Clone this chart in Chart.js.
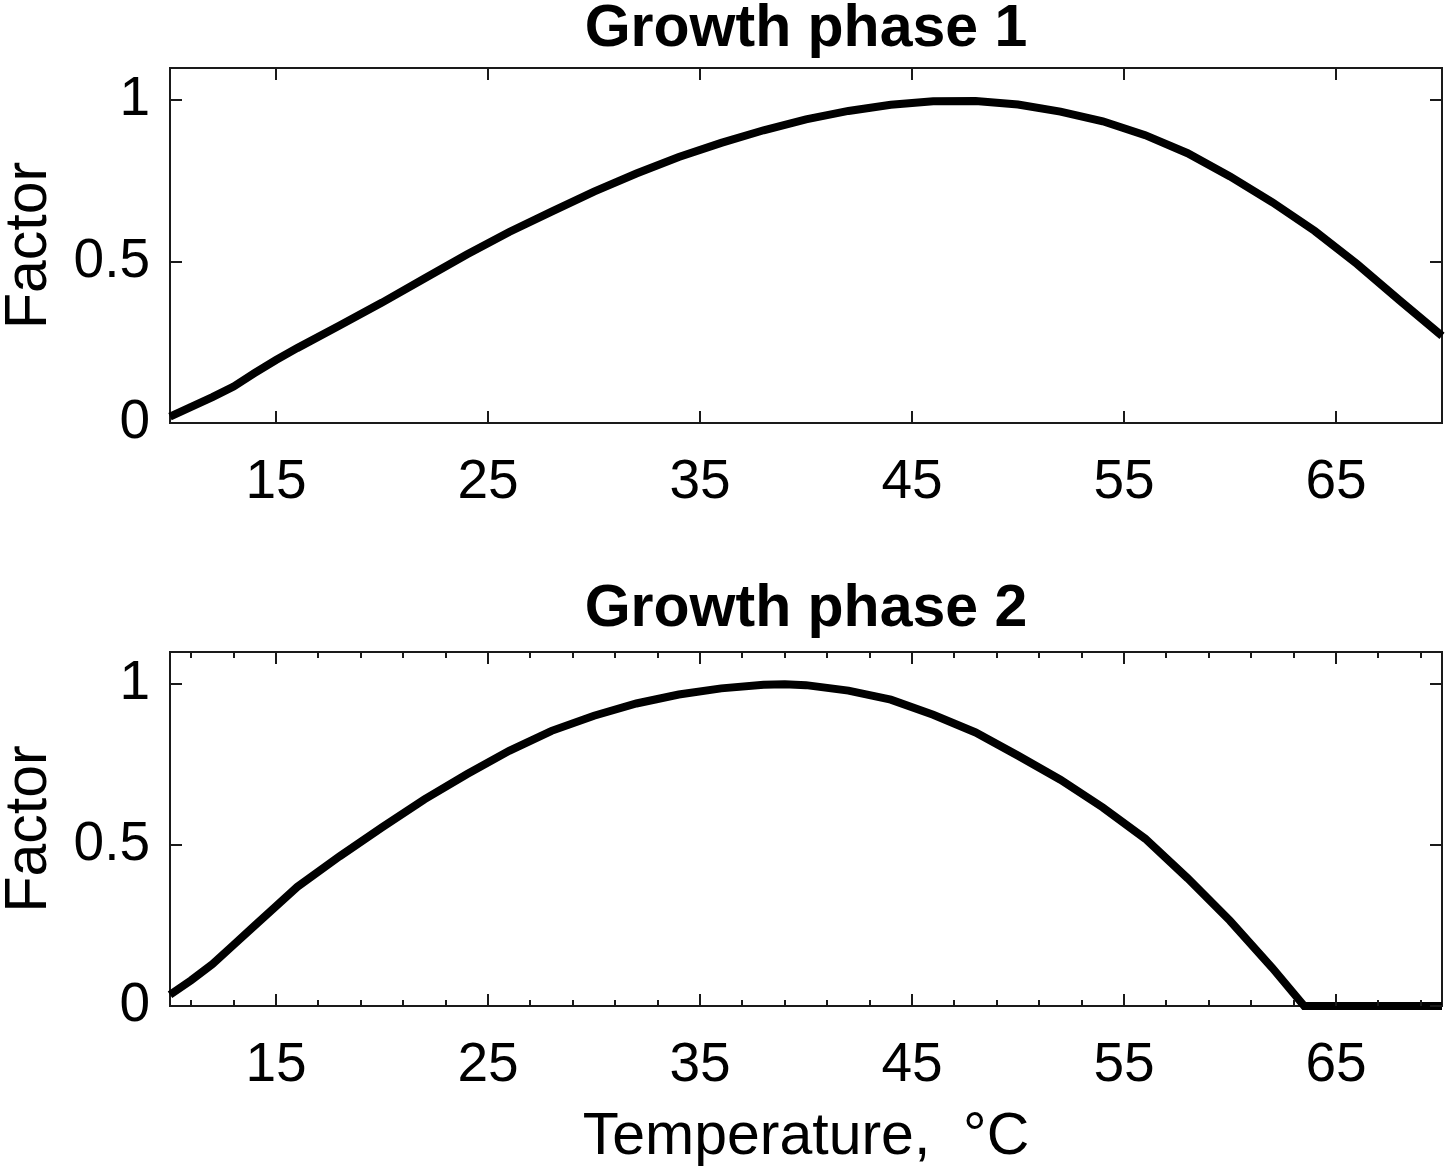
<!DOCTYPE html>
<html>
<head>
<meta charset="utf-8">
<script src="https://cdn.jsdelivr.net/npm/chart.js@4.4.1/dist/chart.umd.min.js"></script>
<style>
  body { margin: 0; background: #fff; }
  canvas { position: absolute; left: 0; }
</style>
</head>
<body>
<canvas id="phase1" width="1450" height="580" style="top:0px"></canvas>
<canvas id="phase2" width="1450" height="596" style="top:580px"></canvas>
<script>
// growth phase 1
const temps1 = [10, 11, 12, 13, 14, 15, 16, 18, 20, 22, 24, 26, 28, 30, 32, 34, 36, 38, 40, 42, 44, 46, 48, 50, 52, 54, 56, 58, 60, 62, 64, 66, 68, 70];
const factor1 = [0.02, 0.05, 0.08, 0.113, 0.155, 0.195, 0.232, 0.302, 0.373, 0.448, 0.522, 0.592, 0.655, 0.717, 0.773, 0.824, 0.868, 0.907, 0.941, 0.967, 0.986, 0.997, 0.998, 0.987, 0.965, 0.935, 0.892, 0.836, 0.764, 0.684, 0.595, 0.492, 0.38, 0.27];

// growth phase 2
const temps2 = [10, 11, 12, 13, 14, 15, 16, 18, 20, 22, 24, 26, 28, 30, 32, 34, 36, 38, 39, 40, 42, 44, 46, 48, 50, 52, 54, 56, 58, 60, 62, 63.5, 66, 68, 70];
const factor2 = [0.035, 0.08, 0.13, 0.19, 0.25, 0.31, 0.37, 0.465, 0.555, 0.642, 0.72, 0.793, 0.855, 0.902, 0.94, 0.968, 0.987, 0.998, 1.0, 0.997, 0.98, 0.952, 0.905, 0.85, 0.778, 0.703, 0.617, 0.52, 0.397, 0.265, 0.118, 0, 0, 0, 0];

const xMajorTicks = [15, 25, 35, 45, 55, 65];
const xMinorTicks = [11, 13, 17, 19, 21, 23, 27, 29, 31, 33, 37, 39, 41, 43, 47, 49, 51, 53, 57, 59, 61, 63, 67, 69];
const yTicks = [0, 0.5, 1];

const FONT = "'Liberation Sans', Arial, sans-serif";
const INK = '#1a1a1a';

// ticks drawn inside the box, on all four sides
const innerTicks = {
    id: 'innerTicks',
    afterDraw(chart, args, opts) {
        const ctx = chart.ctx;
        const a = chart.chartArea;
        const xs = chart.scales.x;
        const ys = chart.scales.y;
        ctx.save();
        ctx.strokeStyle = INK;
        ctx.lineWidth = 2;
        ctx.beginPath();
        const xTick = (vals, len) => {
            vals.forEach((v) => {
                const px = Math.round(xs.getPixelForValue(v));
                ctx.moveTo(px, a.bottom); ctx.lineTo(px, a.bottom - len);
                ctx.moveTo(px, a.top); ctx.lineTo(px, a.top + len);
            });
        };
        xTick(xMajorTicks, 12);
        if (opts.minor) xTick(xMinorTicks, 6);
        yTicks.forEach((v) => {
            const py = Math.round(ys.getPixelForValue(v));
            ctx.moveTo(a.left, py); ctx.lineTo(a.left + 12, py);
            ctx.moveTo(a.right, py); ctx.lineTo(a.right - 12, py);
        });
        ctx.stroke();
        ctx.restore();
    }
};

function makeChart(id, temps, factor, title, xTitle, minor, topH, bottomH) {
    const points = temps.map((t, i) => ({ x: t, y: factor[i] }));
    const border = { display: true, color: INK, width: 2 };
    return new Chart(document.getElementById(id), {
        type: 'line',
        data: {
            datasets: [{
                data: points,
                borderColor: '#000',
                borderWidth: 8,
                pointRadius: 0,
                tension: 0,
                fill: false,
                clip: false
            }]
        },
        options: {
            responsive: false,
            devicePixelRatio: 1,
            animation: false,
            layout: { padding: 0 },
            plugins: {
                legend: { display: false },
                tooltip: { enabled: false },
                innerTicks: { minor: minor }
            },
            scales: {
                x: {
                    type: 'linear',
                    position: 'bottom',
                    min: 10,
                    max: 70,
                    afterBuildTicks: (s) => { s.ticks = xMajorTicks.map((v) => ({ value: v })); },
                    afterFit: (s) => { s.height = bottomH; },
                    grid: { display: false, drawTicks: false },
                    border: border,
                    ticks: {
                        color: '#000',
                        font: { family: FONT, size: 55 },
                        padding: 27,
                        maxRotation: 0,
                        callback: (v) => String(v)
                    },
                    title: {
                        display: !!xTitle,
                        text: xTitle || '',
                        color: '#000',
                        font: { family: FONT, size: 59, lineHeight: 1 },
                        padding: { top: 0, bottom: 9 }
                    }
                },
                x2: {
                    type: 'linear',
                    position: 'top',
                    min: 10,
                    max: 70,
                    afterFit: (s) => { s.height = topH; },
                    grid: { display: false, drawTicks: false },
                    border: border,
                    ticks: { display: false },
                    title: {
                        display: true,
                        text: title,
                        color: '#000',
                        font: { family: FONT, size: 59, weight: 'bold', lineHeight: 1 },
                        padding: { top: 0, bottom: 0 }
                    }
                },
                y: {
                    type: 'linear',
                    position: 'left',
                    min: 0,
                    max: 1.1,
                    afterBuildTicks: (s) => { s.ticks = yTicks.map((v) => ({ value: v })); },
                    afterFit: (s) => { s.width = 170; },
                    grid: { display: false, drawTicks: false },
                    border: border,
                    ticks: {
                        color: '#000',
                        font: { family: FONT, size: 55 },
                        padding: 20,
                        callback: (v) => String(v)
                    },
                    title: {
                        display: true,
                        text: 'Factor',
                        color: '#000',
                        font: { family: FONT, size: 59, lineHeight: 1 },
                        padding: { top: 0, bottom: 0 }
                    }
                },
                y2: {
                    type: 'linear',
                    position: 'right',
                    min: 0,
                    max: 1.1,
                    afterFit: (s) => { s.width = 8; },
                    grid: { display: false, drawTicks: false },
                    border: border,
                    ticks: { display: false }
                }
            }
        },
        plugins: [innerTicks]
    });
}

makeChart('phase1', temps1, factor1, 'Growth phase 1', null, false, 68, 157);
makeChart('phase2', temps2, factor2, 'Growth phase 2', 'Temperature,  \u00B0C', true, 72, 170);
</script>
</body>
</html>
